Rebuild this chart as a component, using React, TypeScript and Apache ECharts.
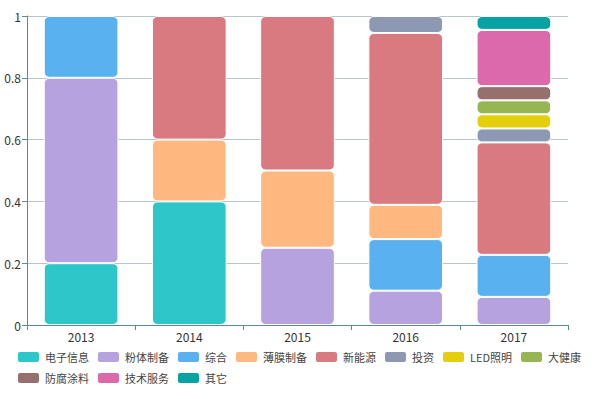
import React, { useEffect, useRef } from "react";
import * as echarts from "echarts";

const years = ["2013", "2014", "2015", "2016", "2017"];
const seriesNames = ["电子信息", "粉体制备", "综合", "薄膜制备", "新能源", "投资", "LED照明", "大健康", "防腐涂料", "技术服务", "其它"];
const colors = ["#2ec7c9", "#b6a2de", "#5ab1ef", "#ffb980", "#d87a80", "#8d98b3", "#e5cf0d", "#97b552", "#95706d", "#dc69aa", "#07a2a4"];

const dianzi = [0.2, 0.4, null, null, null];
const fenti = [0.6, null, 0.25, 0.111, 0.091];
const zonghe = [0.2, null, null, 0.167, 0.136];
const bomo = [null, 0.2, 0.25, 0.111, null];
const xinnengyuan = [null, 0.4, 0.5, 0.556, 0.364];
const touzi = [null, null, null, 0.055, 0.045];
const led = [null, null, null, null, 0.046];
const dajiankang = [null, null, null, null, 0.045];
const fangfu = [null, null, null, null, 0.046];
const jishu = [null, null, null, null, 0.182];
const qita = [null, null, null, null, 0.045];

const seriesData = [dianzi, fenti, zonghe, bomo, xinnengyuan, touzi, led, dajiankang, fangfu, jishu, qita];

export default function App() {
  const ref = useRef<HTMLDivElement>(null);
  useEffect(() => {
    const chart = echarts.init(ref.current!, null, { renderer: "svg" });
    chart.setOption({
      animation: false,
      color: colors,
      textStyle: { fontFamily: "'Noto Sans CJK SC', 'Noto Sans', sans-serif" },
      grid: { left: 27, right: 27, top: 16, bottom: 74 },
      legend: {
        left: 16,
        top: 350,
        width: 590,
        itemWidth: 23,
        itemHeight: 12,
        itemGap: 7,
        padding: 0,
        icon: "roundRect",
        textStyle: { fontSize: 11, color: "#444" },
        data: seriesNames,
      },
      xAxis: {
        type: "category",
        data: years,
        axisLine: { lineStyle: { color: "#5b8c96" } },
        axisTick: { show: true, lineStyle: { color: "#5b8c96" } },
        axisLabel: { color: "#333", fontSize: 12, margin: 5 },
      },
      yAxis: {
        type: "value",
        min: 0,
        max: 1,
        interval: 0.2,
        axisLine: { show: true, lineStyle: { color: "#5b8c96" } },
        axisTick: { show: true, length: 5, lineStyle: { color: "#5b8c96" } },
        axisLabel: { color: "#333", fontSize: 12, margin: 6 },
        splitLine: { lineStyle: { color: "#b9c6c9" } },
      },
      series: seriesNames.map((name, i) => ({
        name,
        type: "bar",
        stack: "total",
        barWidth: "69%",
        data: seriesData[i].map((v) => (v === null ? "-" : v)),
        itemStyle: { borderRadius: 5, borderColor: "#fff", borderWidth: 1 },
      })),
    });
    return () => chart.dispose();
  }, []);
  return <div ref={ref} style={{ width: 595, height: 399, position: "absolute", left: 0, top: 0 }} />;
}
